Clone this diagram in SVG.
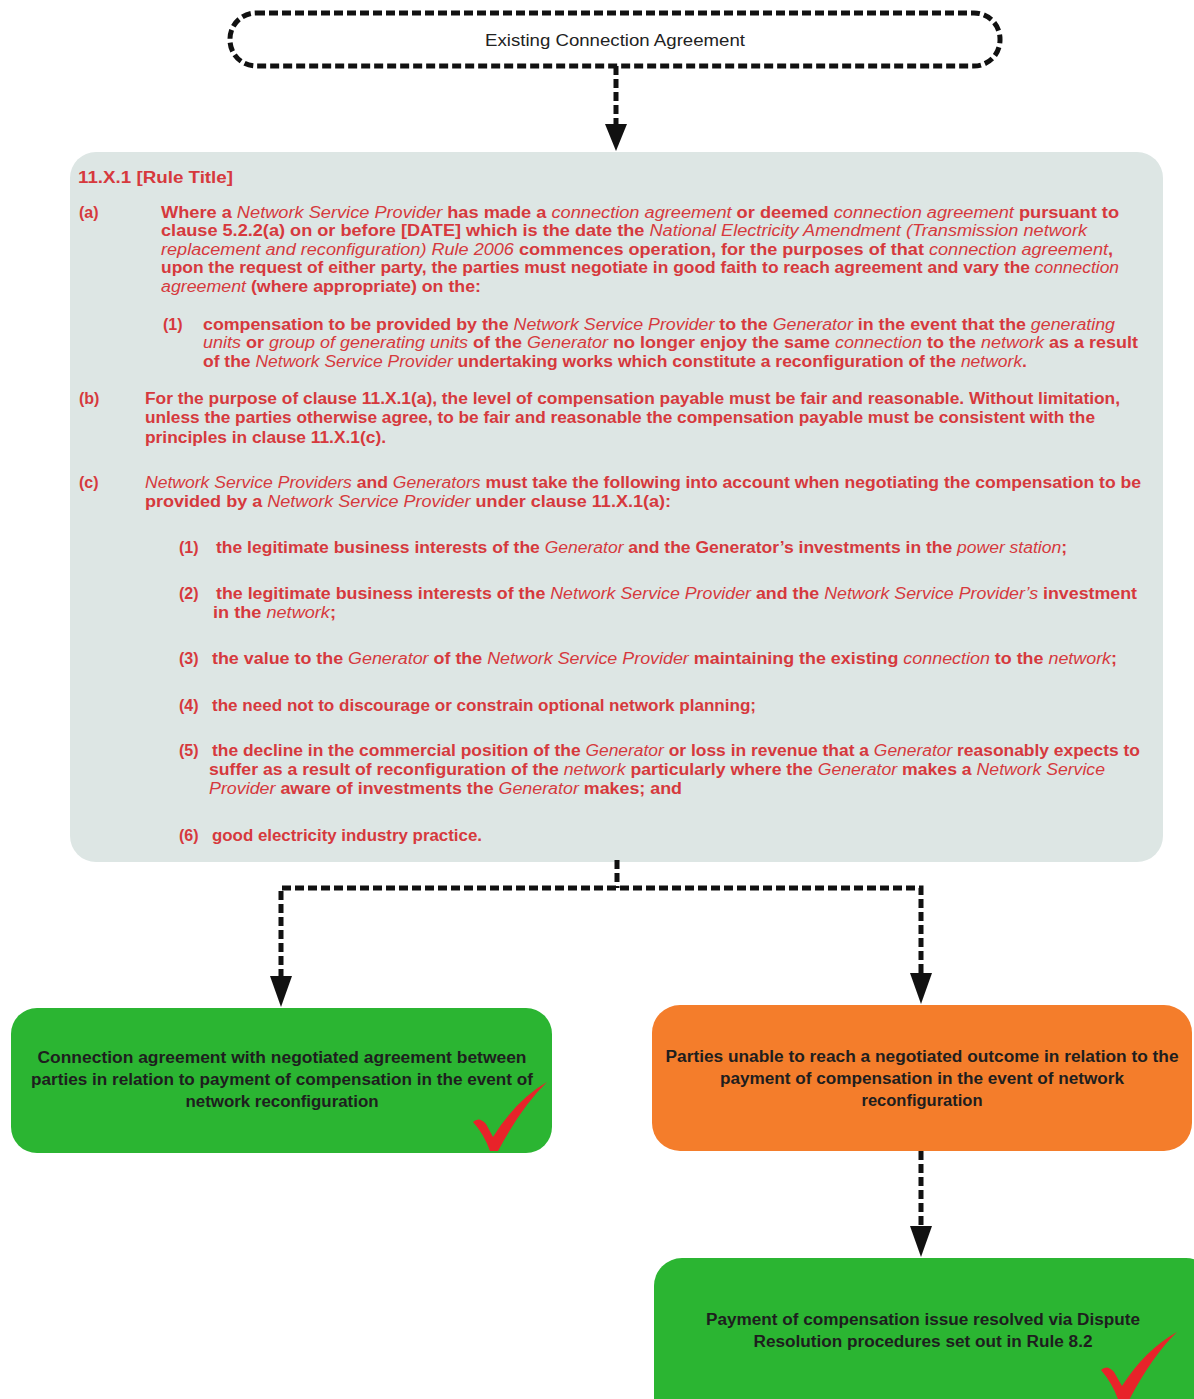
<svg xmlns="http://www.w3.org/2000/svg" width="1194" height="1399" viewBox="0 0 1194 1399">
<style>
.t{font-family:"Liberation Sans",Arial,sans-serif;font-size:16px;font-weight:bold;fill:#d6393d}
.i{font-style:italic;font-weight:normal}
.bx{font-family:"Liberation Sans",Arial,sans-serif;font-size:16px;font-weight:bold;fill:#1e1e1e;text-anchor:middle}
.dash{fill:none;stroke:#111;stroke-width:5;stroke-dasharray:9 4;stroke-linecap:butt}
.head{fill:#111}
.chk{fill:#e8232a}
</style>
<rect width="1194" height="1399" fill="#ffffff"/>

<g id="node-existing">
<rect x="230" y="13" width="770" height="53" rx="26" ry="26" class="dash"/>
<text x="615" y="46" font-family="Liberation Sans Narrow,Liberation Sans,Arial,sans-serif" font-size="17" fill="#222" text-anchor="middle" textLength="260" lengthAdjust="spacingAndGlyphs">Existing Connection Agreement</text>
</g>

<g id="node-rule">
<rect x="70" y="152" width="1093" height="710" rx="26" ry="26" fill="#dde6e4"/>
<text class="t" x="78" y="183" textLength="155" lengthAdjust="spacingAndGlyphs">11.X.1 [Rule Title]</text>

<text class="t" x="79" y="218">(a)</text>
<text class="t" x="161" y="218" textLength="958" lengthAdjust="spacingAndGlyphs">Where a <tspan class="i">Network Service Provider</tspan> has made a <tspan class="i">connection agreement</tspan> or deemed <tspan class="i">connection agreement</tspan> pursuant to</text>
<text class="t" x="161" y="236" textLength="926" lengthAdjust="spacingAndGlyphs">clause 5.2.2(a) on or before [DATE] which is the date the <tspan class="i">National Electricity Amendment (Transmission network</tspan></text>
<text class="t" x="161" y="255" textLength="952" lengthAdjust="spacingAndGlyphs"><tspan class="i">replacement and reconfiguration) Rule 2006</tspan> commences operation, for the purposes of that <tspan class="i">connection agreement</tspan>,</text>
<text class="t" x="161" y="273" textLength="958" lengthAdjust="spacingAndGlyphs">upon the request of either party, the parties must negotiate in good faith to reach agreement and vary the <tspan class="i">connection</tspan></text>
<text class="t" x="161" y="292" textLength="320" lengthAdjust="spacingAndGlyphs"><tspan class="i">agreement</tspan> (where appropriate) on the:</text>

<text class="t" x="163" y="330">(1)</text>
<text class="t" x="203" y="330" textLength="912" lengthAdjust="spacingAndGlyphs">compensation to be provided by the <tspan class="i">Network Service Provider</tspan> to the <tspan class="i">Generator</tspan> in the event that the <tspan class="i">generating</tspan></text>
<text class="t" x="203" y="348" textLength="935" lengthAdjust="spacingAndGlyphs"><tspan class="i">units</tspan> or <tspan class="i">group of generating units</tspan> of the <tspan class="i">Generator</tspan> no longer enjoy the same <tspan class="i">connection</tspan> to the <tspan class="i">network</tspan> as a result</text>
<text class="t" x="203" y="367" textLength="824" lengthAdjust="spacingAndGlyphs">of the <tspan class="i">Network Service Provider</tspan> undertaking works which constitute a reconfiguration of the <tspan class="i">network</tspan>.</text>

<text class="t" x="79" y="404">(b)</text>
<text class="t" x="145" y="404" textLength="975" lengthAdjust="spacingAndGlyphs">For the purpose of clause 11.X.1(a), the level of compensation payable must be fair and reasonable. Without limitation,</text>
<text class="t" x="145" y="423" textLength="950" lengthAdjust="spacingAndGlyphs">unless the parties otherwise agree, to be fair and reasonable the compensation payable must be consistent with the</text>
<text class="t" x="145" y="443" textLength="241" lengthAdjust="spacingAndGlyphs">principles in clause 11.X.1(c).</text>

<text class="t" x="79" y="488">(c)</text>
<text class="t" x="145" y="488" textLength="996" lengthAdjust="spacingAndGlyphs"><tspan class="i">Network Service Providers</tspan> and <tspan class="i">Generators</tspan> must take the following into account when negotiating the compensation to be</text>
<text class="t" x="145" y="507" textLength="526" lengthAdjust="spacingAndGlyphs">provided by a <tspan class="i">Network Service Provider</tspan> under clause 11.X.1(a):</text>

<text class="t" x="179" y="553">(1)</text>
<text class="t" x="216" y="553" textLength="851" lengthAdjust="spacingAndGlyphs">the legitimate business interests of the <tspan class="i">Generator</tspan> and the Generator’s investments in the <tspan class="i">power station</tspan>;</text>

<text class="t" x="179" y="599">(2)</text>
<text class="t" x="216" y="599" textLength="921" lengthAdjust="spacingAndGlyphs">the legitimate business interests of the <tspan class="i">Network Service Provider</tspan> and the <tspan class="i">Network Service Provider’s</tspan> investment</text>
<text class="t" x="213" y="618" textLength="123" lengthAdjust="spacingAndGlyphs">in the <tspan class="i">network</tspan>;</text>

<text class="t" x="179" y="664">(3)</text>
<text class="t" x="212" y="664" textLength="905" lengthAdjust="spacingAndGlyphs">the value to the <tspan class="i">Generator</tspan> of the <tspan class="i">Network Service Provider</tspan> maintaining the existing <tspan class="i">connection</tspan> to the <tspan class="i">network</tspan>;</text>

<text class="t" x="179" y="711">(4)</text>
<text class="t" x="212" y="711" textLength="544" lengthAdjust="spacingAndGlyphs">the need not to discourage or constrain optional network planning;</text>

<text class="t" x="179" y="756">(5)</text>
<text class="t" x="212" y="756" textLength="928" lengthAdjust="spacingAndGlyphs">the decline in the commercial position of the <tspan class="i">Generator</tspan> or loss in revenue that a <tspan class="i">Generator</tspan> reasonably expects to</text>
<text class="t" x="209" y="775" textLength="896" lengthAdjust="spacingAndGlyphs">suffer as a result of reconfiguration of the <tspan class="i">network</tspan> particularly where the <tspan class="i">Generator</tspan> makes a <tspan class="i">Network Service</tspan></text>
<text class="t" x="209" y="794" textLength="473" lengthAdjust="spacingAndGlyphs"><tspan class="i">Provider</tspan> aware of investments the <tspan class="i">Generator</tspan> makes; and</text>

<text class="t" x="179" y="841">(6)</text>
<text class="t" x="212" y="841" textLength="270" lengthAdjust="spacingAndGlyphs">good electricity industry practice.</text>
</g>

<g id="node-negotiated">
<rect x="11" y="1008" width="541" height="145" rx="26" ry="26" fill="#2bb532"/>
<text class="bx" x="282" y="1063" textLength="489" lengthAdjust="spacingAndGlyphs">Connection agreement with negotiated agreement between</text>
<text class="bx" x="282" y="1085" textLength="502" lengthAdjust="spacingAndGlyphs">parties in relation to payment of compensation in the event of</text>
<text class="bx" x="282" y="1107" textLength="193" lengthAdjust="spacingAndGlyphs">network reconfiguration</text>
<path class="chk" d="M473,1122 Q479,1116 486,1124 L493,1137 Q516,1100 547,1082 Q522,1106 498,1151 L490,1151 Q484,1134 473,1122 Z"/>
</g>

<g id="node-unable">
<rect x="652" y="1005" width="540" height="146" rx="28" ry="28" fill="#f47d2b"/>
<text class="bx" x="922" y="1062" textLength="513" lengthAdjust="spacingAndGlyphs">Parties unable to reach a negotiated outcome in relation to the</text>
<text class="bx" x="922" y="1084" textLength="404" lengthAdjust="spacingAndGlyphs">payment of compensation in the event of network</text>
<text class="bx" x="922" y="1106" textLength="121" lengthAdjust="spacingAndGlyphs">reconfiguration</text>
</g>

<g id="node-dispute">
<rect x="654" y="1258" width="560" height="170" rx="28" ry="28" fill="#2bb532"/>
<text class="bx" x="923" y="1325" textLength="434" lengthAdjust="spacingAndGlyphs">Payment of compensation issue resolved via Dispute</text>
<text class="bx" x="923" y="1347" textLength="339" lengthAdjust="spacingAndGlyphs">Resolution procedures set out in Rule 8.2</text>
<path class="chk" d="M1101,1370 Q1107,1364 1114,1372 L1122,1386 Q1145,1350 1177,1332 Q1152,1356 1128,1402 L1119,1402 Q1113,1384 1101,1370 Z"/>
</g>

<g id="connectors">
<line class="dash" x1="616" y1="66" x2="616" y2="126"/>
<polygon class="head" points="605,124 627,124 616,151"/>
<polyline class="dash" points="617,860 617,888"/>
<polyline class="dash" points="281,978 281,888 921,888 921,975"/>
<polygon class="head" points="270,976 292,976 281,1007"/>
<polygon class="head" points="910,973 932,973 921,1004"/>
<line class="dash" x1="921" y1="1151" x2="921" y2="1228"/>
<polygon class="head" points="910,1226 932,1226 921,1257"/>
</g>
</svg>
